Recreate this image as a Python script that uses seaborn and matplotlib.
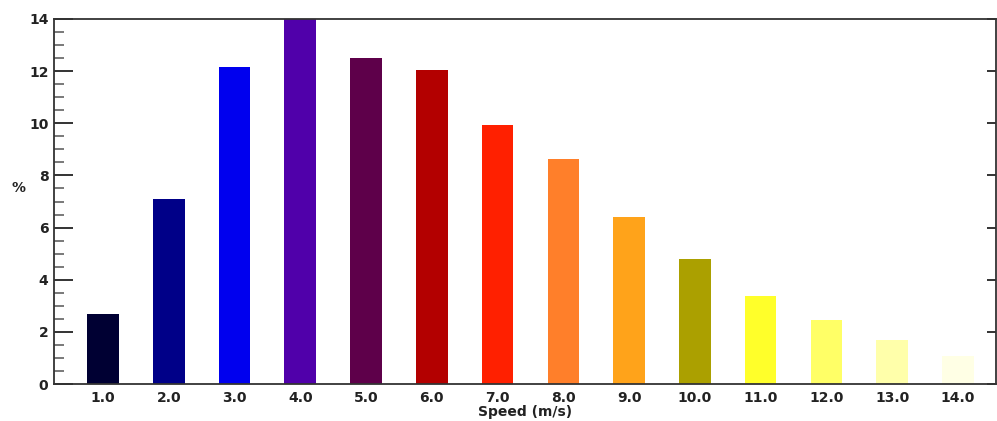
import matplotlib
matplotlib.use("Agg")
import matplotlib.pyplot as plt
import seaborn as sns
import pandas as pd
from matplotlib.ticker import MultipleLocator

speeds = ["1.0", "2.0", "3.0", "4.0", "5.0", "6.0", "7.0",
          "8.0", "9.0", "10.0", "11.0", "12.0", "13.0", "14.0"]
percent = [2.68, 7.08, 12.16, 14.0, 12.5, 12.05, 9.93,
           8.63, 6.4, 4.8, 3.38, 2.45, 1.69, 1.07]
colors = ["#000033", "#000088", "#0000EE", "#5000AA", "#5E004A", "#B30000", "#FF2000",
          "#FF7F2A", "#FFA31A", "#ABA000", "#FFFF2A", "#FFFF66", "#FFFFAA", "#FFFFE5"]

df = pd.DataFrame({"speed": speeds, "pct": percent})

sns.set_style("ticks")
plt.rcParams.update({
    "font.family": ["DejaVu Sans"],
    "font.weight": "bold",
    "axes.edgecolor": "#333333",
    "axes.linewidth": 1.3,
    "xtick.direction": "in",
    "ytick.direction": "in",
    "xtick.major.size": 5,
    "xtick.major.width": 1.1,
    "ytick.major.size": 13.5,
    "ytick.major.width": 1.4,
    "ytick.minor.size": 7,
    "ytick.minor.width": 1.1,
    "ytick.minor.visible": True,
    "xtick.labelsize": 10,
    "ytick.labelsize": 10,
    "xtick.color": "#222222",
    "ytick.color": "#222222",
    "xtick.major.pad": 5,
    "ytick.major.pad": 4,
    "xtick.bottom": True,
    "ytick.left": True,
    "ytick.right": True,
    "ytick.labelright": False,
})

fig = plt.figure(figsize=(9.97, 4.21), dpi=100)
ax = fig.add_axes([54/997, 37/421, 942/997, 365/421])

sns.barplot(data=df, x="speed", y="pct", hue="speed", palette=dict(zip(speeds, colors)),
            order=speeds, hue_order=speeds, legend=False, saturation=1, width=0.48,
            linewidth=0, dodge=False, ax=ax)

ax.set_xlim(-0.745, 13.58)
ax.set_ylim(0, 14)
ax.yaxis.set_major_locator(MultipleLocator(2))
ax.yaxis.set_minor_locator(MultipleLocator(0.5))
ax.tick_params(axis="y", which="major", direction="in", length=13.5, width=1.4,
               color="#333333", pad=4, labelsize=10, left=True, right=True, labelright=False)
ax.tick_params(axis="y", which="minor", direction="in", length=7, width=1.1,
               color="#555555", left=True, right=False)
ax.tick_params(axis="x", which="minor", bottom=False, top=False)

# shorter tick marks on the right-hand side
for t in ax.yaxis.get_major_ticks():
    t.tick2line.set_markersize(6.5)

ax.set_xlabel("Speed (m/s)", fontsize=10, fontweight="bold", color="#222222", labelpad=0)
ax.set_ylabel("")
fig.text(18/997, 1 - 188/421, "%", fontsize=10, fontweight="bold", color="#222222",
         ha="center", va="center")

fig.savefig("out.png", dpi=100)
